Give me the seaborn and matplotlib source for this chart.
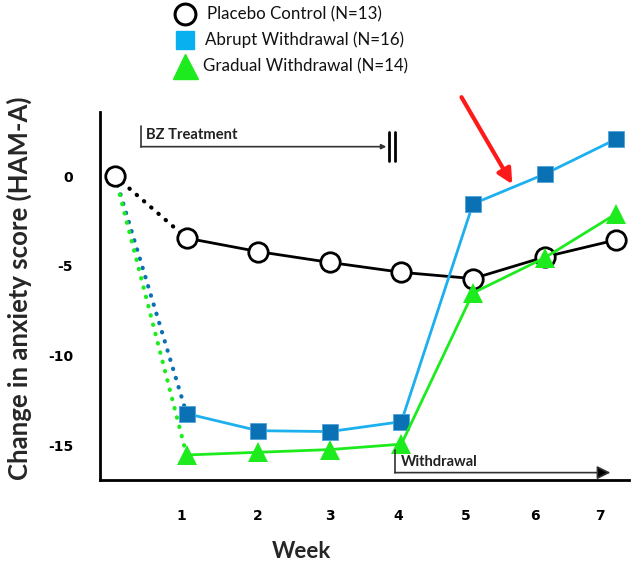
import matplotlib
matplotlib.use("Agg")
import matplotlib.pyplot as plt
from matplotlib.lines import Line2D
import seaborn as sns

## data
weeks = [0, 1, 2, 3, 4, 5, 6, 7]
placebo = [0, -3.45, -4.2, -4.8, -5.35, -5.7, -4.5, -3.55]
abrupt_weeks = [1, 2, 3, 4, 5, 6, 7]
abrupt = [-13.2, -14.15, -14.2, -13.65, -1.55, 0.1, 2.05]
gradual_weeks = [1, 2, 3, 4, 5, 6, 7]
gradual = [-15.5, -15.35, -15.2, -14.9, -6.5, -4.55, -2.1]

tick_pos = [0.92, 2.0, 3.0, 3.96, 4.9, 5.86, 6.78]
tick_labels = ['1', '2', '3', '4', '5', '6', '7']
ytick_vals = [0, -5, -10, -15]
ytick_labels = ['0', '-5', '-10', '-15']

legend_labels = ['Placebo Control (N=13)', 'Abrupt Withdrawal (N=16)', 'Gradual Withdrawal (N=14)']

sns.set_style('white')
NARROW = ['Lato', 'DejaVu Sans']
plt.rcParams['font.family'] = ['DejaVu Sans']

BLACK = '#000000'
CYAN = '#1CB0EE'
BLUE = '#0A71B5'
GREEN = '#1EEB1E'

fig = plt.figure(figsize=(6.33, 5.64), dpi=100)
ax = fig.add_axes([99.5 / 633, 84 / 564, 529.5 / 633, 368 / 564])

dot = dict(linestyle=(0, (0.1, 2.2)), dash_capstyle='round', linewidth=3)

## dotted connectors from baseline to week 1
sns.lineplot(x=weeks[:2], y=placebo[:2], color=BLACK, ax=ax, **dot)
sns.lineplot(x=[weeks[0], abrupt_weeks[0]], y=[placebo[0], abrupt[0]], color=BLUE, ax=ax, **dot)
sns.lineplot(x=[weeks[0], gradual_weeks[0]], y=[placebo[0], gradual[0]], color=GREEN, ax=ax, **dot)

## solid lines
sns.lineplot(x=weeks[1:], y=placebo[1:], color=BLACK, linewidth=2, ax=ax)
sns.lineplot(x=weeks, y=placebo, color=BLACK, linewidth=0, marker='o', markersize=14,
             markerfacecolor='white', markeredgecolor=BLACK, markeredgewidth=2, ax=ax)
sns.lineplot(x=abrupt_weeks, y=abrupt, color=CYAN, linewidth=2, marker='s', markersize=12,
             markerfacecolor=BLUE, markeredgecolor='#4FA3DA', markeredgewidth=0.6, ax=ax)
sns.lineplot(x=gradual_weeks, y=gradual, color=GREEN, linewidth=2, marker='^', markersize=15,
             markerfacecolor=GREEN, markeredgecolor=GREEN, markeredgewidth=0, ax=ax)

ax.set_xlim(-0.216, 7.18)
ax.set_ylim(-16.89, 3.556)
ax.set_xticks(tick_pos)
ax.set_xticklabels(tick_labels)
ax.set_yticks(ytick_vals)
ax.set_yticklabels(ytick_labels)
ax.tick_params(axis='both', direction='out', length=10, width=2, color=BLACK,
               labelsize=10, labelcolor=BLACK)
ax.tick_params(axis='x', pad=11)
ax.tick_params(axis='y', pad=9)
for lab in ax.get_xticklabels() + ax.get_yticklabels():
    lab.set_fontweight('bold')

sns.despine(ax=ax)
for s in ['left', 'bottom']:
    ax.spines[s].set_linewidth(2)
    ax.spines[s].set_color(BLACK)

ax.set_xlabel('Week', fontsize=16, fontweight='bold', family=NARROW, va='center')
ax.xaxis.set_label_coords((301 - 99.5) / 529.5, (480 - 552) / 368)
ax.set_ylabel('Change in anxiety score (HAM-A)', fontsize=18.5, fontweight='bold',
              family=NARROW, va='center')
ax.yaxis.set_label_coords((19 - 99.5) / 529.5, (480 - 288) / 368)

## BZ treatment bracket
ax.plot([0.36, 0.36], [2.78, 1.63], color='#333333', lw=1.2, clip_on=False)
ax.annotate('', xy=(3.79, 1.63), xytext=(0.36, 1.63),
            arrowprops=dict(arrowstyle='-|>', color='#333333', lw=1.2, mutation_scale=7,
                            shrinkA=0, shrinkB=0))
ax.plot([3.83, 3.83], [2.46, 0.83], color=BLACK, lw=2, clip_on=False)
ax.plot([3.91, 3.91], [2.46, 0.83], color=BLACK, lw=2, clip_on=False)
ax.text(0.44, 2.27, 'BZ Treatment', fontsize=10.6, fontweight='bold', family=NARROW,
        va='center', ha='left', color='#222222')

## withdrawal bracket
ax.plot([3.91, 3.91], [-15.22, -16.48], color='#333333', lw=1.2)
ax.annotate('', xy=(6.92, -16.48), xytext=(3.91, -16.48),
            arrowprops=dict(arrowstyle='-|>', color='#333333', lw=1.2, mutation_scale=20,
                            shrinkA=0, shrinkB=0, fc=BLACK))
ax.text(3.99, -15.89, 'Withdrawal', fontsize=10.5, fontweight='bold', family=NARROW,
        va='center', ha='left', color='#222222')

## red arrow
ax.annotate('', xy=(5.55, -0.46), xytext=(4.84, 4.38), annotation_clip=False,
            arrowprops=dict(arrowstyle='-|>', color='#FF1A1A', lw=3, mutation_scale=22,
                            shrinkA=0, shrinkB=0))

## legend drawn at the top of the figure
leg_y = [14, 40, 66]
leg_x = [207, 205, 203]
leg_markers = [
    dict(marker='o', markersize=15, markerfacecolor='white', markeredgecolor=BLACK, markeredgewidth=2.2),
    dict(marker='s', markersize=12.5, markerfacecolor='#08B0F0', markeredgecolor='#08B0F0'),
    dict(marker='^', markersize=18, markerfacecolor=GREEN, markeredgecolor=GREEN),
]
for lab, y, x, mk in zip(legend_labels, leg_y, leg_x, leg_markers):
    fig.add_artist(Line2D([185 / 633], [1 - y / 564], transform=fig.transFigure,
                          linestyle='none', **mk))
    fig.text(x / 633, 1 - y / 564, lab, fontsize=12.2, family=NARROW,
             va='center', ha='left', color='#111111')

fig.savefig('out.png', dpi=100, facecolor='white')
